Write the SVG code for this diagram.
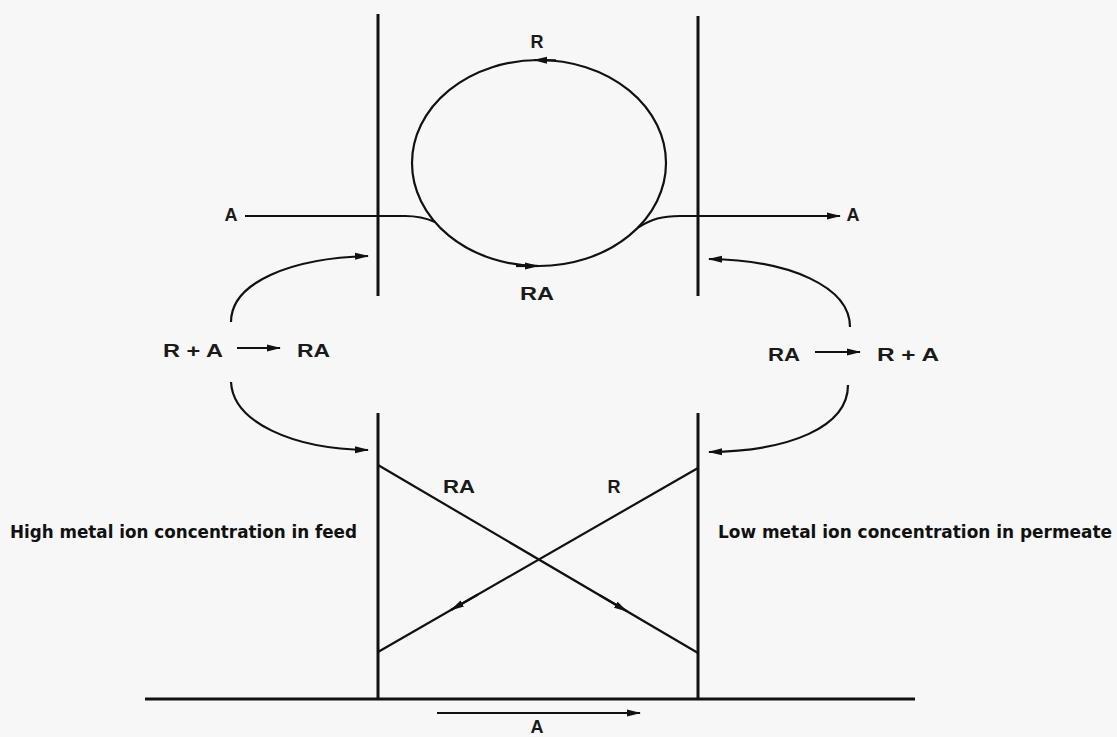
<svg xmlns="http://www.w3.org/2000/svg" width="1117" height="737" viewBox="0 0 1117 737">
<defs>
<marker id="ah" viewBox="0 0 14 10" refX="13" refY="5" markerWidth="14" markerHeight="10" markerUnits="userSpaceOnUse" orient="auto">
<path d="M0,1.5 L14,5 L0,8.5 Z" fill="#111"/>
</marker>
</defs>
<style>
.ln{stroke:#111;stroke-width:2.2;fill:none}
.mb{stroke:#111;stroke-width:3;fill:none}
.lb{font-family:"Liberation Sans",Arial,sans-serif;font-size:18px;font-weight:bold;fill:#1a1a1a}
.big{font-family:"Liberation Sans Narrow","DejaVu Sans Condensed",sans-serif;font-size:18px;font-weight:bold;fill:#111}
</style>
<rect width="1117" height="737" fill="#f7f7f7"/>
<g id="membrane-top">
<line class="mb" x1="378" y1="14" x2="378" y2="296"/>
<line class="mb" x1="698" y1="16" x2="698" y2="296"/>
</g>
<g id="membrane-bottom">
<line class="mb" x1="378" y1="413" x2="378" y2="699"/>
<line class="mb" x1="698" y1="413" x2="698" y2="699"/>
<line class="mb" x1="145" y1="699" x2="915" y2="699"/>
</g>
<g id="carrier-loop">
<ellipse class="ln" cx="539" cy="163" rx="127" ry="103"/>
<path class="ln" d="M556,60.3 L534,60" marker-end="url(#ah)"/>
<path class="ln" d="M516,266 L538,266" marker-end="url(#ah)"/>
<text class="lb" x="537" y="48" text-anchor="middle">R</text>
<text class="lb" x="537" y="300" text-anchor="middle" textLength="34" lengthAdjust="spacingAndGlyphs">RA</text>
</g>
<g id="connectors">
<path class="ln" d="M245,216 L405,216 C418,216 426,218 435,222"/>
<path class="ln" d="M638,227.5 C652,219 662,216 680,216 L840,216" marker-end="url(#ah)"/>
<path class="ln" d="M231,322 C231,282 292,258 368,256" marker-end="url(#ah)"/>
<path class="ln" d="M231,382 C233,422 292,449 368,450" marker-end="url(#ah)"/>
<path class="ln" d="M850,327 C850,287 790,260 709,259" marker-end="url(#ah)"/>
<path class="ln" d="M848,385 C848,427 790,451 709,452" marker-end="url(#ah)"/>
<path class="ln" d="M237,348 L280,348" marker-end="url(#ah)"/>
<path class="ln" d="M815,352 L860,352" marker-end="url(#ah)"/>
<path class="ln" d="M378,465 L698,653"/>
<path class="ln" d="M600,595.4 L627,611.3" marker-end="url(#ah)"/>
<path class="ln" d="M698,468 L378,652"/>
<path class="ln" d="M478,594.5 L451,610" marker-end="url(#ah)"/>
<path class="ln" d="M437,713 L640,713" marker-end="url(#ah)"/>
</g>
<g id="labels">
<text class="lb" x="231" y="221" text-anchor="middle">A</text>
<text class="lb" x="853" y="221" text-anchor="middle">A</text>
<text class="lb" x="163" y="357" textLength="60" lengthAdjust="spacingAndGlyphs">R + A</text>
<text class="lb" x="297" y="357" textLength="33" lengthAdjust="spacingAndGlyphs">RA</text>
<text class="lb" x="768" y="361" textLength="32" lengthAdjust="spacingAndGlyphs">RA</text>
<text class="lb" x="877" y="361" textLength="62" lengthAdjust="spacingAndGlyphs">R + A</text>
<text class="lb" x="459" y="493" text-anchor="middle" textLength="32" lengthAdjust="spacingAndGlyphs">RA</text>
<text class="lb" x="614" y="493" text-anchor="middle">R</text>
<text class="lb" x="537" y="733" text-anchor="middle">A</text>
<text class="big" x="10" y="538" textLength="347" lengthAdjust="spacingAndGlyphs">High metal ion concentration in feed</text>
<text class="big" x="718" y="538" textLength="394" lengthAdjust="spacingAndGlyphs">Low metal ion concentration in permeate</text>
</g>
</svg>
